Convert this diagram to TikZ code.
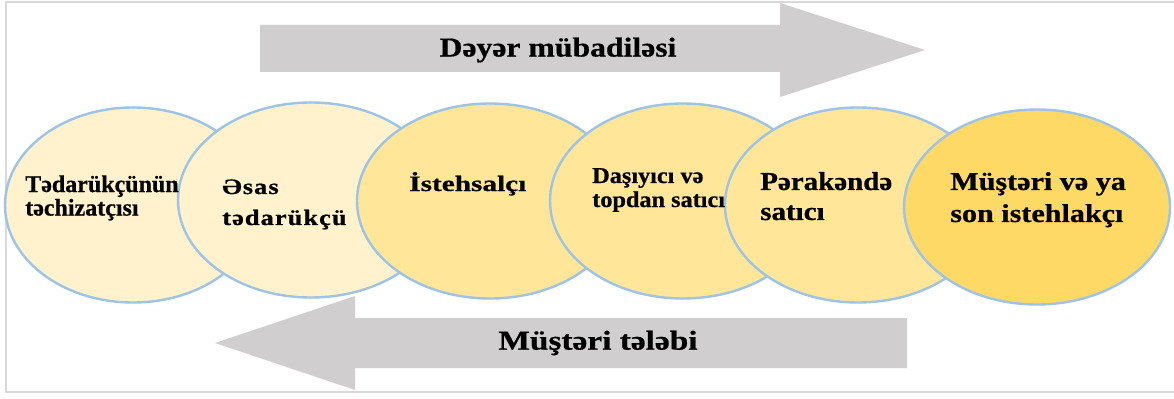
\documentclass[tikz,border=0pt]{standalone}
\usepackage{fontspec}
\setmainfont{Liberation Serif}[BoldFeatures={FakeBold=0.6}]
\usetikzlibrary{shapes.geometric}
\usepackage{graphicx}

\definecolor{creamfill}{HTML}{FFF2CC}
\definecolor{goldlight}{HTML}{FFE699}
\definecolor{goldmid}{HTML}{FFD966}
\definecolor{ringblue}{HTML}{9DC3E6}
\definecolor{arrowgray}{HTML}{D0CECE}
\definecolor{framegray}{HTML}{D9D9D9}

% horizontally stretched, left-aligned block whose baseline is its first line
\newcommand\widetext[2]{\scalebox{#1}[1]{\begin{tabular}[t]{@{}l@{}}#2\end{tabular}}}

\tikzset{
  stage/.style={ellipse, draw=ringblue, line width=1.8pt, inner sep=0pt,
    minimum width=199.5pt, minimum height=146.25pt},
  stagetext/.style={anchor=base west, inner sep=0pt, text=black},
  flowarrow/.style={fill=arrowgray, draw=none},
  flowtext/.style={inner sep=0pt, text=black,
    font=\fontsize{20.5}{22}\selectfont\bfseries},
  framerule/.style={draw=framegray, line width=1.5pt}
}

\begin{document}
\begin{tikzpicture}[x=0.75pt,y=-0.75pt]
\useasboundingbox (0,0) rectangle (1174,399);
\fill[white] (0,0) rectangle (1174,399);

% open frame: left, top and bottom rules
\draw[framerule] (1174,2) -- (6,2) -- (6,392) -- (1174,392);

% value exchange arrow (left to right)
\fill[flowarrow] (260,25) -- (780,25) -- (780,3) -- (925,50)
  -- (780,97) -- (780,72) -- (260,72) -- cycle;
% customer demand arrow (right to left)
\fill[flowarrow] (907,318) -- (355,318) -- (355,296) -- (215,343)
  -- (355,390) -- (355,368) -- (907,368) -- cycle;

\node[flowtext] (valuetxt) at (558,50) {\scalebox{1.16}[1]{Dəyər mübadiləsi}};
\node[flowtext] (demandtxt) at (598,343) {\scalebox{1.22}[1]{Müştəri tələbi}};

% supply chain stages, each overlapping the previous one
\node[stage, fill=creamfill, minimum width=192pt] (e1) at (133,205) {};
\node[stage, fill=creamfill] (e2) at (311,200) {};
\node[stage, fill=goldlight] (e3) at (490,201) {};
\node[stage, fill=goldlight] (e4) at (683,201) {};
\node[stage, fill=goldlight] (e5) at (858,205) {};
\node[stage, fill=goldmid] (e6) at (1037,207) {};

\node[stagetext, font=\fontsize{18}{17.25}\selectfont\bfseries] (t1) at (25,192)
  {\widetext{1.0}{Tədarükçünün\\təchizatçısı}};
\node[stagetext, font=\fontsize{16.5}{23.25}\selectfont\bfseries\addfontfeature{LetterSpace=4}] (t2) at (222,194)
  {\widetext{1.2}{Əsas\\tədarükçü}};
\node[stagetext, font=\fontsize{16.5}{18}\selectfont\bfseries] (t3) at (409,191)
  {\widetext{1.33}{İstehsalçı}};
\node[stagetext, font=\fontsize{17}{18}\selectfont\bfseries] (t4) at (592,183)
  {\widetext{1.07}{Daşıyıcı və\\topdan satıcı}};
\node[stagetext, font=\fontsize{19.4}{22.5}\selectfont\bfseries] (t5) at (760,190)
  {\widetext{1.12}{Pərakəndə\\satıcı}};
\node[stagetext, font=\fontsize{19.3}{24}\selectfont\bfseries] (t6) at (950,190)
  {\widetext{1.17}{Müştəri və ya\\son istehlakçı}};
\end{tikzpicture}
\end{document}
